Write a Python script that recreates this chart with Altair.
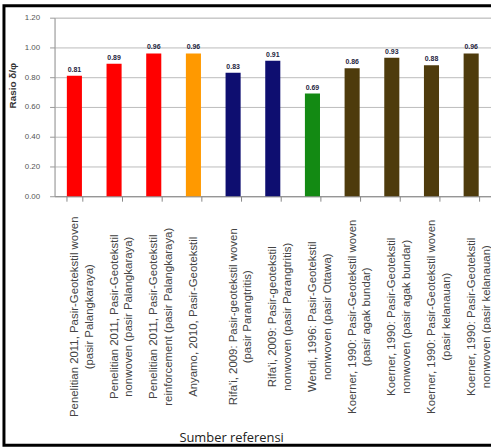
import altair as alt
import pandas as pd

# Sources, ratio values and bar colours
sources = [
    "Penelitian 2011, Pasir-Geotekstil woven\n(pasir Palangkaraya)",
    "Penelitian 2011, Pasir-Geotekstil\nnonwoven (pasir Palangkaraya)",
    "Penelitian 2011, Pasir-Geotekstil\nreinforcement (pasir Palangkaraya)",
    "Anyamo, 2010, Pasir-Geotekstil",
    "Rifa'i, 2009: Pasir-geotekstil woven\n(pasir Parangtritis)",
    "Rifa'i, 2009: Pasir-geotekstil\nnonwoven (pasir Parangtritis)",
    "Wendi, 1996: Pasir-Geotekstil\nnonwoven (pasir Ottawa)",
    "Koerner, 1990: Pasir-Geotekstil woven\n(pasir agak bundar)",
    "Koerner, 1990: Pasir-Geotekstil\nnonwoven (pasir agak bundar)",
    "Koerner, 1990: Pasir-Geotekstil woven\n(pasir kelanauan)",
    "Koerner, 1990: Pasir-Geotekstil\nnonwoven (pasir kelanauan)",
]
ratios = [0.81, 0.89, 0.96, 0.96, 0.83, 0.91, 0.69, 0.86, 0.93, 0.88, 0.96]
colors = ["#FF0000", "#FF0000", "#FF0000", "#FF9900", "#0E0E70", "#0E0E70",
          "#138A13", "#4E3B0C", "#4E3B0C", "#4E3B0C", "#4E3B0C"]
y_ticks = [0.0, 0.2, 0.4, 0.6, 0.8, 1.0, 1.2]

df = pd.DataFrame({"sumber": sources, "rasio": ratios, "warna": colors})

x_enc = alt.X(
    "sumber:N",
    sort=None,
    scale=alt.Scale(paddingInner=0.62, paddingOuter=0.31),
    axis=alt.Axis(
        title="Sumber referensi",
        titleFont="Open Sans",
        titleFontSize=13,
        titleFontWeight="normal",
        titleColor="#222",
        titleX=178,
        titleY=243,
        titleBaseline="middle",
        labelAngle=270,
        labelAlign="center",
        labelBaseline="middle",
        labelPadding=116,
        labelFont="Liberation Sans",
        labelFontSize=11.5,
        labelLineHeight=15,
        labelColor="#444",
        labelExpr="datum.value ? split(datum.value, '\\n') : ''",
        labelLimit=0,
        labelOverlap=False,
        tickBand="extent",
        tickSize=5,
        tickColor="#888",
        domainColor="#888",
        grid=False,
    ),
)

y_enc = alt.Y(
    "rasio:Q",
    scale=alt.Scale(domain=[0, 1.2], nice=False),
    axis=alt.Axis(
        values=y_ticks,
        tickCount=10,
        format=".2f",
        title="Rasio δ/φ",
        titleFont="Liberation Sans",
        titleFontSize=10,
        titleFontWeight="bold",
        titleColor="#333",
        titleAngle=270,
        titleX=-42,
        titleY=68,
        titleAlign="center",
        titleBaseline="middle",
        labelFont="Liberation Sans",
        labelFontSize=8,
        labelColor="#555",
        labelPadding=10,
        labelOverlap=False,
        tickSize=5,
        tickColor="#999",
        domainColor="#999",
        gridColor="#bbbbbb",
    ),
)

bars = alt.Chart(df).mark_bar().encode(
    x=x_enc,
    y=y_enc,
    color=alt.Color("warna:N", scale=None),
)

labels = alt.Chart(df).mark_text(
    dy=-6, fontSize=7, fontWeight="bold", color="#1e1e40", font="Liberation Sans"
).encode(
    x=alt.X("sumber:N", sort=None),
    y="rasio:Q",
    text=alt.Text("rasio:Q", format=".2f"),
)

# outer frame around the whole figure
frame = alt.Chart(pd.DataFrame({"f": [0]})).mark_rect(
    fill=None, stroke="black", strokeWidth=3, clip=False
).encode(
    x=alt.value(-51), x2=alt.value(480), y=alt.value(-12), y2=alt.value(431)
)

chart = alt.layer(bars, labels, frame).properties(
    width=440,
    height=180,
    padding={"left": 55, "top": 16, "right": 0, "bottom": 252},
    autosize=alt.AutoSizeParams(type="none"),
).configure_view(
    stroke="#aaaaaa"
).configure(background="white")

chart.save("out.html", embed_options={"renderer": "svg", "actions": False})
